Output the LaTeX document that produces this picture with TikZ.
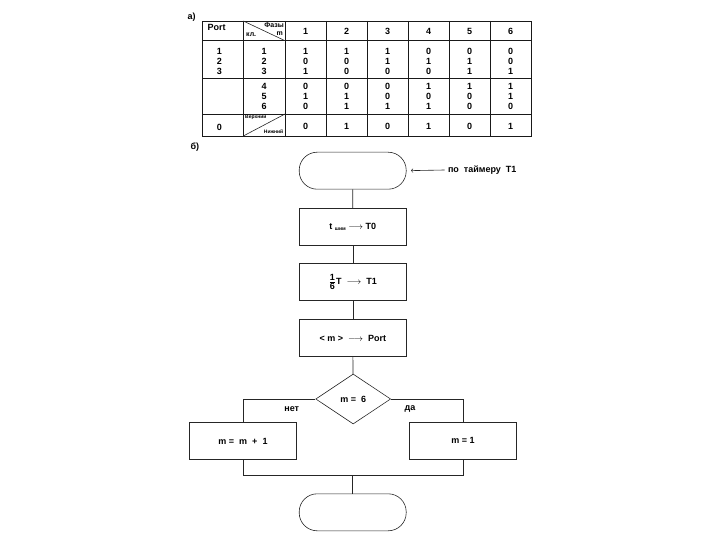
\documentclass[tikz,border=0pt]{standalone}
\usepackage{fontspec}
\setmainfont{Liberation Sans}
\usetikzlibrary{shapes.geometric}
\begin{document}
\begin{tikzpicture}[x=1pt,y=-1pt,font=\fontsize{9}{10}\selectfont\bfseries]

\tikzset{
  block/.style={draw=black!85,line width=0.6pt,minimum width=107pt,minimum height=37pt,inner sep=0pt},
  terminal/.style={block,rounded corners=18pt},
  decision/.style={draw=black!85,line width=0.6pt,diamond,aspect=1.5,minimum width=75pt,minimum height=50pt,inner sep=0pt},
  link/.style={draw=black!85,line width=0.6pt},
  grid/.style={draw=black!90,line width=0.8pt},
  tiny/.style={font=\fontsize{5}{6}\selectfont\bfseries}
}
\useasboundingbox (0,0) rectangle (720,540);

% a) table
\node[anchor=west] (lbla) at (184,17) {а)};
\draw[grid] (202.7,21) rectangle (531.7,136);
\foreach \x in {243.3,285,326,367,408,449,490}
  \draw[grid] (\x,21) -- (\x,136);
\foreach \y in {40.7,78.3,114}
  \draw[grid] (202.7,\y) -- (531.7,\y);
\draw[link] (243.3,21) -- (285,40.7);
\draw[link] (243.3,136) -- (285,114);

%header
\node[anchor=west] (port) at (204,27.5) {Port};
\node[anchor=east,inner sep=1pt,font=\fontsize{7}{8}\selectfont\bfseries] (faz) at (285,25) {Фазы};
\node[anchor=east,inner sep=1pt,font=\fontsize{7}{8}\selectfont\bfseries] (mm) at (284,33.5) {m};
\node[anchor=west,inner sep=1pt,font=\fontsize{7}{8}\selectfont\bfseries] (kl) at (245,34.5) {кл.};
\foreach \i in {1,...,6}
  \node (h\i) at ({264.5+41*\i},31) {\i};

%rows
\foreach \k/\y in {1/51.7,2/61.7,3/71.7}
  \node (p\k) at (219.5,\y) {\k};
\foreach \k/\y in {1/51.7,2/61.7,3/71.7,4/86,5/96,6/106.5}
  \node (k\k) at (264,\y) {\k};
\foreach \k/\y/\vals in {1/51.7/{1,1,1,0,0,0},2/61.7/{0,0,1,1,1,0},3/71.7/{1,0,0,0,1,1},
    4/86/{0,0,0,1,1,1},5/96/{1,1,0,0,0,1},6/106.5/{0,1,1,1,0,0},0/126.5/{0,1,0,1,0,1}}
  \foreach \v [count=\i] in \vals
    \node (v\k\i) at ({264.5+41*\i},\y) {\v};
\node (p0) at (219.5,127) {0};
\node[anchor=west,inner sep=1pt,tiny] (up) at (244,117.5) {Верхний};
\node[anchor=east,inner sep=1pt,tiny] (down) at (284.5,132) {Нижний};

% b) flowchart
\node[anchor=west] (lblb) at (187,147) {б)};
\node[terminal] (start) at (352.7,170.7) {};
\node[block] (pwm) at (352.8,226.7) {t~\raisebox{-1pt}{\fontsize{5}{6}\selectfont\bfseries шим}~$\longrightarrow$~T0};
\node[block] (per) at (352.8,282) {$\frac{\mbox{1}}{\mbox{6}}$T~~$\longrightarrow$~~T1};
\node[block] (out) at (352.8,338) {<~m~>~~$\longrightarrow$~~Port};
\node[decision] (chk) at (353.2,399) {m~=~~6};
\node[block] (inc) at (243,441) {m~=~~m~~+~~1\hspace{18pt}};
\node[block] (rst) at (463,440.5) {m~=~1};
\node[terminal] (stop) at (352.7,512.3) {};
\coordinate (join) at (352.7,475.7);
\node[anchor=west] (tmr) at (444.5,170) {по~~таймеру~~T1};
\node (no) at (291.7,409) {нет};
\node (yes) at (410,408.7) {да};

\draw[link] (start) -- (pwm);
\draw[link] (pwm) -- (per);
\draw[link] (per) -- (out);
\draw[link] (out) -- (chk);
\draw[link] (chk.west) -| (inc.north);
\draw[link] (chk.east) -| (rst.north);
\draw[link] (inc.south) |- (join) -| (rst.south);
\draw[link] (join) -- (stop);
\draw[link,->,shorten >=4.5pt] (tmr.west) -- (start.east);
\end{tikzpicture}
\end{document}
